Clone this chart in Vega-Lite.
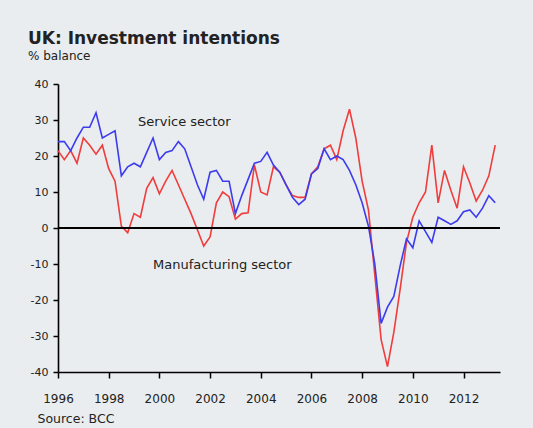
{
  "$schema": "https://vega.github.io/schema/vega-lite/v6.json",
  "width": 442,
  "height": 288,
  "autosize": {"type": "none"},
  "padding": {"left": 58, "top": 84, "right": 33, "bottom": 56},
  "background": "#e9edef",
  "config": {
    "view": {"stroke": null},
    "font": "DejaVu Sans",
    "axisY": {
      "values": [-40, -30, -20, -10, 0, 10, 20, 30, 40],
      "labelExpr": "datum.value < 0 ? '-' + abs(datum.value) : '' + datum.value",
      "labelOverlap": false,
      "labelBound": false,
      "labelFlush": false,
      "grid": false,
      "domainColor": "#000000",
      "domainWidth": 1.6,
      "tickColor": "#000000",
      "tickWidth": 1.5,
      "tickSize": 5,
      "labelPadding": 5,
      "labelFontSize": 11,
      "labelColor": "#222222",
      "labelFont": "DejaVu Sans",
      "title": null
    }
  },
  "title": {
    "text": "UK: Investment intentions",
    "subtitle": "% balance",
    "anchor": "start",
    "frame": "group",
    "dx": -30,
    "offset": 15,
    "fontSize": 17,
    "font": "DejaVu Sans",
    "fontWeight": "bold",
    "color": "#222222",
    "subtitleFont": "DejaVu Sans",
    "subtitleFontSize": 12,
    "subtitleColor": "#222222",
    "subtitlePadding": 3
  },
  "datasets": {
    "d": [
      {"t": 1996.00, "service": 24, "manufacturing": 21.5},
      {"t": 1996.25, "service": 24, "manufacturing": 19},
      {"t": 1996.50, "service": 21.5, "manufacturing": 21.5},
      {"t": 1996.75, "service": 25, "manufacturing": 18},
      {"t": 1997.00, "service": 28, "manufacturing": 25},
      {"t": 1997.25, "service": 28, "manufacturing": 23},
      {"t": 1997.50, "service": 32, "manufacturing": 20.5},
      {"t": 1997.75, "service": 25, "manufacturing": 23},
      {"t": 1998.00, "service": 26, "manufacturing": 16.5},
      {"t": 1998.25, "service": 27, "manufacturing": 13},
      {"t": 1998.50, "service": 14.5, "manufacturing": 0.5},
      {"t": 1998.75, "service": 17, "manufacturing": -1.3},
      {"t": 1999.00, "service": 18, "manufacturing": 4},
      {"t": 1999.25, "service": 17, "manufacturing": 3},
      {"t": 1999.50, "service": 21, "manufacturing": 11},
      {"t": 1999.75, "service": 25, "manufacturing": 14},
      {"t": 2000.00, "service": 19, "manufacturing": 9.5},
      {"t": 2000.25, "service": 21, "manufacturing": 13},
      {"t": 2000.50, "service": 21.5, "manufacturing": 16},
      {"t": 2000.75, "service": 24, "manufacturing": 12},
      {"t": 2001.00, "service": 22, "manufacturing": 8},
      {"t": 2001.25, "service": 17, "manufacturing": 4},
      {"t": 2001.50, "service": 12, "manufacturing": -0.5},
      {"t": 2001.75, "service": 8, "manufacturing": -5},
      {"t": 2002.00, "service": 15.5, "manufacturing": -2.5},
      {"t": 2002.25, "service": 16, "manufacturing": 7},
      {"t": 2002.50, "service": 13, "manufacturing": 10},
      {"t": 2002.75, "service": 13, "manufacturing": 8.7},
      {"t": 2003.00, "service": 4, "manufacturing": 2.5},
      {"t": 2003.25, "service": 9, "manufacturing": 4},
      {"t": 2003.50, "service": 13.5, "manufacturing": 4.2},
      {"t": 2003.75, "service": 18, "manufacturing": 17.5},
      {"t": 2004.00, "service": 18.5, "manufacturing": 10},
      {"t": 2004.25, "service": 21, "manufacturing": 9.2},
      {"t": 2004.50, "service": 17.5, "manufacturing": 17},
      {"t": 2004.75, "service": 15.5, "manufacturing": 15.5},
      {"t": 2005.00, "service": 12, "manufacturing": 12},
      {"t": 2005.25, "service": 8.5, "manufacturing": 9},
      {"t": 2005.50, "service": 6.5, "manufacturing": 8.5},
      {"t": 2005.75, "service": 8, "manufacturing": 8.5},
      {"t": 2006.00, "service": 15, "manufacturing": 15},
      {"t": 2006.25, "service": 16.5, "manufacturing": 17},
      {"t": 2006.50, "service": 22, "manufacturing": 22},
      {"t": 2006.75, "service": 19, "manufacturing": 23},
      {"t": 2007.00, "service": 20, "manufacturing": 19},
      {"t": 2007.25, "service": 19, "manufacturing": 27},
      {"t": 2007.50, "service": 16, "manufacturing": 33},
      {"t": 2007.75, "service": 12, "manufacturing": 25},
      {"t": 2008.00, "service": 7, "manufacturing": 13},
      {"t": 2008.25, "service": 0.5, "manufacturing": 5},
      {"t": 2008.50, "service": -10, "manufacturing": -13},
      {"t": 2008.75, "service": -26.5, "manufacturing": -31},
      {"t": 2009.00, "service": -22, "manufacturing": -38.5},
      {"t": 2009.25, "service": -19, "manufacturing": -29},
      {"t": 2009.50, "service": -10.5, "manufacturing": -17},
      {"t": 2009.75, "service": -3, "manufacturing": -4},
      {"t": 2010.00, "service": -5.5, "manufacturing": 3},
      {"t": 2010.25, "service": 2, "manufacturing": 7},
      {"t": 2010.50, "service": -1, "manufacturing": 10},
      {"t": 2010.75, "service": -4, "manufacturing": 23},
      {"t": 2011.00, "service": 3, "manufacturing": 7},
      {"t": 2011.25, "service": 2, "manufacturing": 16},
      {"t": 2011.50, "service": 1, "manufacturing": 10.5},
      {"t": 2011.75, "service": 2, "manufacturing": 5.5},
      {"t": 2012.00, "service": 4.5, "manufacturing": 17},
      {"t": 2012.25, "service": 5, "manufacturing": 12.5},
      {"t": 2012.50, "service": 3, "manufacturing": 7.5},
      {"t": 2012.75, "service": 5.5, "manufacturing": 10.5},
      {"t": 2013.00, "service": 9, "manufacturing": 14.5},
      {"t": 2013.25, "service": 7, "manufacturing": 23}
    ],
    "labels": [
      {"t": 1999.16, "v": 29.5, "label": "Service sector"},
      {"t": 1999.75, "v": -10.3, "label": "Manufacturing sector"}
    ]
  },
  "layer": [
    {
      "data": {"name": "d"},
      "mark": {"type": "line", "color": "#f03c3c", "strokeWidth": 1.6},
      "encoding": {
        "x": {
          "field": "t",
          "type": "quantitative",
          "scale": {"domain": [1996, 2013.44], "nice": false, "zero": false},
          "axis": {
            "values": [1996, 1997, 1998, 1999, 2000, 2001, 2002, 2003, 2004, 2005, 2006, 2007, 2008, 2009, 2010, 2011, 2012, 2013],
            "format": "d",
            "labelExpr": "datum.value % 2 == 0 ? datum.label : ''",
            "labelOverlap": false,
            "labelBound": false,
            "labelFlush": false,
            "grid": false,
            "domainColor": "#000000",
            "domainWidth": 1.6,
            "tickColor": "#000000",
            "tickWidth": 1.5,
            "tickSize": 6,
            "labelPadding": 15,
            "labelFontSize": 12,
            "labelColor": "#222222",
            "labelFont": "DejaVu Sans",
            "title": "Source: BCC",
            "titleAnchor": "start",
            "titleAlign": "left",
            "titleX": -21,
            "titleY": 50,
            "titleBaseline": "alphabetic",
            "titleFontSize": 12.5,
            "titleFontWeight": "normal",
            "titleColor": "#222222",
            "titleFont": "DejaVu Sans"
          }
        },
        "y": {
          "field": "manufacturing",
          "type": "quantitative",
          "scale": {"domain": [-40, 40], "nice": false},
          "axis": {
            "values": [-40, -30, -20, -10, 0, 10, 20, 30, 40],
            "labelFlush": false,
            "title": null
          }
        }
      }
    },
    {
      "data": {"name": "d"},
      "mark": {"type": "line", "color": "#3c3cee", "strokeWidth": 1.6},
      "encoding": {
        "x": {"field": "t", "type": "quantitative"},
        "y": {"field": "service", "type": "quantitative", "axis": {"values": [-40, -30, -20, -10, 0, 10, 20, 30, 40], "labelFlush": false, "title": null}}
      }
    },
    {
      "data": {"name": "d"},
      "mark": {"type": "rule", "color": "#000000", "strokeWidth": 1.5},
      "encoding": {"y": {"datum": 0, "type": "quantitative", "axis": {"values": [-40, -30, -20, -10, 0, 10, 20, 30, 40], "labelFlush": false, "title": null}}}
    },
    {
      "data": {"name": "labels"},
      "mark": {"type": "text", "align": "left", "baseline": "middle", "fontSize": 13, "font": "DejaVu Sans", "color": "#222222"},
      "encoding": {
        "x": {"field": "t", "type": "quantitative"},
        "y": {"field": "v", "type": "quantitative", "axis": {"values": [-40, -30, -20, -10, 0, 10, 20, 30, 40], "labelFlush": false, "title": null}},
        "text": {"field": "label"}
      }
    }
  ]
}
